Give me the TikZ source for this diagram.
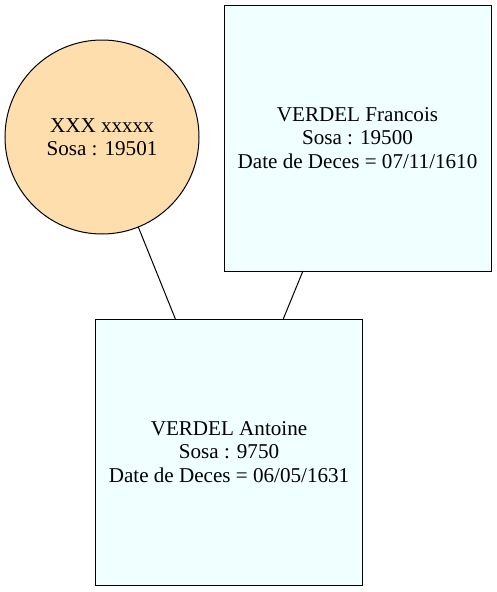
\documentclass[tikz,border=0pt]{standalone}
\usepackage{fontspec}
\setmainfont{Liberation Serif}
\definecolor{navajo}{HTML}{FFDEAD}
\definecolor{azurefill}{HTML}{F0FFFF}
\tikzset{
	person/.style={draw, line width=1pt, inner sep=0pt, outer sep=0pt, align=center,
		font=\fontsize{21.1}{23.5}\selectfont},
	ancbox/.style={person, rectangle, fill=azurefill, minimum width=267pt, minimum height=266pt},
	anccircle/.style={person, circle, fill=navajo, minimum size=194pt},
	link/.style={line width=1pt}
}

\begin{document}
\begin{tikzpicture}[x=1pt, y=-1pt]

% frame %{{{2

	\useasboundingbox (0,0) rectangle (496,592);

% nodes %{{{2

	\node[anccircle] (xxx) at (102,137) {XXX xxxxx\\Sosa : 19501};
	\node[ancbox] (francois) at (357.5,138) {VERDEL Francois\\Sosa : 19500\\Date de Deces = 07/11/1610};
	\node[ancbox] (antoine) at (229,452) {VERDEL Antoine\\Sosa : 9750\\Date de Deces = 06/05/1631};

% links %{{{2

	\draw[link] (xxx) -- (antoine);
	\draw[link] (francois) -- (antoine);

% closing %{{{2

\end{tikzpicture}
\end{document}
